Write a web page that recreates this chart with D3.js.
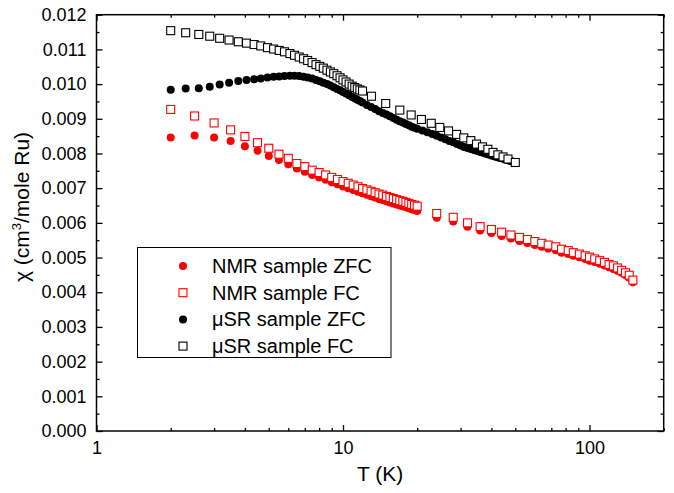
<!DOCTYPE html>
<html><head><meta charset="utf-8">
<script src="https://cdn.jsdelivr.net/npm/d3@7"></script>
<style>
body{margin:0;background:#fff}
svg{display:block}
text{font-family:Arial,"Liberation Sans",sans-serif;fill:#000}
</style>
</head><body>
<svg id="chart" width="674" height="493"></svg>
<script>
// ---------- data (chi in units of cm^3/mole Ru) ----------
const T_nmrZFC = [2.0,2.5,3.0,3.5,4.0,4.5,5.0,5.5,6.0,6.5,7.0,7.5,8.0,8.5,9.0,9.5,10.0,10.5,11.0,11.5,12.0,12.5,13.0,13.5,14.0,14.5,15.0,15.5,16.0,16.5,17.0,17.5,18.0,18.5,19.0,19.5,20.0,
  24,28,32,36,40,44,48,52,56,60,64,68,73,77,82,86,91,96,100,105,110,115,120,125,130,135,140,145,150];
const chi_nmrZFC = [0.00846,0.00852,0.00846,0.00836,0.00821,0.00808,0.00793,0.00781,0.00769,0.00757,0.00747,0.00738,0.00731,0.00724,0.00717,0.00711,0.00705,0.00700,0.00695,0.00690,0.00685,0.00681,0.00677,0.00673,0.00669,0.00666,0.00662,0.00659,0.00656,0.00653,0.00650,0.00648,0.00645,0.00642,0.00639,0.00637,0.00634,
  0.00615,0.00604,0.00589,0.00578,0.00571,0.00562,0.00555,0.00548,0.00542,0.00536,0.00531,0.00526,0.00521,0.00514,0.00510,0.00505,0.00501,0.00496,0.00491,0.00487,0.00482,0.00477,0.00472,0.00467,0.00462,0.00456,0.00450,0.00442,0.00429];

const T_nmrFC = [2.0,2.5,3.0,3.5,4.0,4.5,5.0,5.5,6.0,6.5,7.0,7.5,8.0,8.5,9.0,9.5,10.0,10.5,11.0,11.5,12.0,12.5,13.0,13.5,14.0,14.5,15.0,15.5,16.0,16.5,17.0,17.5,18.0,18.5,19.0,19.5,20.0,
  24,28,32,36,40,44,48,52,56,60,64,68,73,77,82,86,91,96,100,105,110,115,120,125,130,135,140,145,150];
const chi_nmrFC = [0.00927,0.00908,0.00888,0.00868,0.00849,0.00831,0.00815,0.00798,0.00786,0.00771,0.00762,0.00752,0.00745,0.00738,0.00731,0.00725,0.00719,0.00714,0.00709,0.00704,0.00699,0.00695,0.00691,0.00687,0.00683,0.00680,0.00676,0.00673,0.00670,0.00667,0.00664,0.00662,0.00659,0.00656,0.00653,0.00651,0.00648,
  0.00627,0.00616,0.00600,0.00589,0.00581,0.00573,0.00565,0.00558,0.00552,0.00546,0.00541,0.00536,0.00531,0.00524,0.00520,0.00514,0.00510,0.00505,0.00501,0.00496,0.00491,0.00486,0.00480,0.00476,0.00470,0.00463,0.00456,0.00449,0.00435];

const T_musrZFC = [2.00,2.30,2.60,2.88,3.16,3.45,3.76,4.06,4.36,4.64,4.94,5.23,5.51,5.79,6.09,6.36,6.64,6.92,7.19,7.49,7.77,8.05,8.32,8.61,8.89,9.17,9.46,9.73,10.00,10.29,10.59,10.89,11.16,11.43,11.71,12.00,
  12.5,13.0,13.5,14.0,14.5,15.0,15.5,16.0,16.5,17.0,17.5,18.0,18.5,19.0,19.5,20.0,
  21,22,23,24,25,26,27,28,29,30,31,32,33,34,35,36,37,38,39,40,41,42,43,44,45,46,47,48,49,50];
const chi_musrZFC = [0.00984,0.00987,0.00988,0.00992,0.00999,0.01004,0.01009,0.01012,0.01014,0.01016,0.01019,0.01021,0.01022,0.01023,0.01024,0.01024,0.01023,0.01021,0.01019,0.01016,0.01012,0.01008,0.01004,0.01000,0.00996,0.00991,0.00986,0.00982,0.00977,0.00973,0.00968,0.00963,0.00959,0.00955,0.00951,0.00947,
  0.00940,0.00934,0.00928,0.00922,0.00917,0.00912,0.00907,0.00902,0.00897,0.00893,0.00889,0.00885,0.00881,0.00877,0.00874,0.00871,
  0.00866,0.00861,0.00856,0.00851,0.00846,0.00841,0.00836,0.00832,0.00827,0.00823,0.00819,0.00816,0.00813,0.00810,0.00807,0.00804,0.00802,0.00799,0.00797,0.00794,0.00792,0.00790,0.00788,0.00786,0.00784,0.00782,0.00780,0.00778,0.00776,0.00774];

const T_musrFC = [2.00,2.30,2.60,2.88,3.16,3.45,3.76,4.06,4.36,4.64,4.94,5.23,5.51,5.79,6.09,6.36,6.64,6.92,7.19,7.49,7.77,8.05,8.32,8.61,8.89,9.17,9.46,9.73,10.00,10.29,10.59,10.89,11.16,11.43,11.71,12.00,
  13.05,14.9,17.0,18.9,20.8,22.8,24.7,26.8,28.9,30.9,33.0,34.8,36.8,38.7,40.6,42.5,44.6,46.7,50.0];
const chi_musrFC = [0.01154,0.01148,0.01143,0.01138,0.01132,0.01127,0.01122,0.01118,0.01114,0.01110,0.01105,0.01101,0.01097,0.01093,0.01088,0.01083,0.01078,0.01073,0.01068,0.01062,0.01056,0.01051,0.01046,0.01040,0.01035,0.01030,0.01024,0.01018,0.01012,0.01006,0.01000,0.00994,0.00990,0.00986,0.00983,0.00980,
  0.00965,0.00944,0.00925,0.00911,0.00898,0.00887,0.00875,0.00865,0.00855,0.00845,0.00837,0.00827,0.00819,0.00812,0.00803,0.00796,0.00790,0.00784,0.00774];

const xMajor = [1,10,100];
const xMinor = [2,3,4,5,6,7,8,9,20,30,40,50,60,70,80,90,200];
const yMajor = [0,0.001,0.002,0.003,0.004,0.005,0.006,0.007,0.008,0.009,0.010,0.011,0.012];
const yMinor = [0.0005,0.0015,0.0025,0.0035,0.0045,0.0055,0.0065,0.0075,0.0085,0.0095,0.0105,0.0115];

const legendLabels = ["NMR sample ZFC","NMR sample FC","\u03bcSR sample ZFC","\u03bcSR sample FC"];
const seriesColors = ["#ff0000","#ff0000","#000000","#000000"];
const seriesShapes = ["circle","square","circle","square"];
// ---------------------------------------------------------

const svg = d3.select("#chart");
const L = 96.5, R = 663.7, TOP = 14.7, B = 431;
const x = d3.scaleLog().domain([1,200]).range([L,R]);
const y = d3.scaleLinear().domain([0,0.012]).range([B,TOP]);

const series = [
  {T:T_nmrZFC, c:chi_nmrZFC},
  {T:T_nmrFC, c:chi_nmrFC},
  {T:T_musrZFC, c:chi_musrZFC},
  {T:T_musrFC, c:chi_musrFC}
];

const plot = svg.append("g");
series.forEach((s,i)=>{
  const pts = s.T.map((t,k)=>({t, v:s.c[k]}));
  const g = plot.append("g");
  if (seriesShapes[i]==="circle"){
    g.selectAll("circle").data(pts).join("circle")
      .attr("cx",d=>x(d.t)).attr("cy",d=>y(d.v)).attr("r",4)
      .attr("fill",seriesColors[i]);
  } else {
    g.selectAll("rect").data(pts).join("rect")
      .attr("x",d=>x(d.t)-4).attr("y",d=>y(d.v)-4).attr("width",8).attr("height",8)
      .attr("fill","#fff").attr("stroke",seriesColors[i]).attr("stroke-width",1.1);
  }
});

// axes
function styleAxis(g){ g.select(".domain").remove(); g.selectAll("line").attr("stroke","#000").attr("stroke-width",1.3); }
const fontTick = "18px";
svg.append("g").attr("transform",`translate(0,${B})`)
  .call(d3.axisBottom(x).tickValues(xMajor).tickFormat(d3.format("d")).tickSizeInner(-6).tickSizeOuter(0).tickPadding(10))
  .call(styleAxis).call(g=>g.selectAll("text").attr("font-size",fontTick).attr("font-family","Arial, 'Liberation Sans', sans-serif"));
svg.append("g").attr("transform",`translate(0,${B})`)
  .call(d3.axisBottom(x).tickValues(xMinor).tickFormat("").tickSizeInner(-3).tickSizeOuter(0)).call(styleAxis);
svg.append("g").attr("transform",`translate(0,${TOP})`)
  .call(d3.axisTop(x).tickValues(xMajor).tickFormat("").tickSizeInner(-6).tickSizeOuter(0)).call(styleAxis);
svg.append("g").attr("transform",`translate(0,${TOP})`)
  .call(d3.axisTop(x).tickValues(xMinor).tickFormat("").tickSizeInner(-3).tickSizeOuter(0)).call(styleAxis);

svg.append("g").attr("transform",`translate(${L},0)`)
  .call(d3.axisLeft(y).tickValues(yMajor).tickFormat(d3.format(".3f")).tickSizeInner(-6).tickSizeOuter(0).tickPadding(10))
  .call(styleAxis).call(g=>g.selectAll("text").attr("font-size",fontTick).attr("font-family","Arial, 'Liberation Sans', sans-serif"));
svg.append("g").attr("transform",`translate(${L},0)`)
  .call(d3.axisLeft(y).tickValues(yMinor).tickFormat("").tickSizeInner(-3).tickSizeOuter(0)).call(styleAxis);
svg.append("g").attr("transform",`translate(${R},0)`)
  .call(d3.axisRight(y).tickValues(yMajor).tickFormat("").tickSizeInner(-6).tickSizeOuter(0)).call(styleAxis);
svg.append("g").attr("transform",`translate(${R},0)`)
  .call(d3.axisRight(y).tickValues(yMinor).tickFormat("").tickSizeInner(-3).tickSizeOuter(0)).call(styleAxis);

svg.append("rect").attr("x",L).attr("y",TOP).attr("width",R-L).attr("height",B-TOP)
  .attr("fill","none").attr("stroke","#000").attr("stroke-width",1.5);

// axis titles
svg.append("text").attr("x",(L+R)/2).attr("y",481).attr("text-anchor","middle")
  .attr("font-size","21px").text("T (K)");
const yt = svg.append("text").attr("transform",`translate(29,207) rotate(-90)`)
  .attr("text-anchor","middle").attr("font-size","21px");
yt.append("tspan").text("\u03c7 (cm");
yt.append("tspan").attr("font-size","13px").attr("dy","-8").text("3");
yt.append("tspan").attr("dy","8").text("/mole Ru)");

// legend
const lg = svg.append("g");
lg.append("rect").attr("x",137.5).attr("y",247.5).attr("width",253.5).attr("height",110)
  .attr("fill","#fff").attr("stroke","#000").attr("stroke-width",1);
legendLabels.forEach((lab,i)=>{
  const cy = 266 + i*26.7;
  if (seriesShapes[i]==="circle"){
    lg.append("circle").attr("cx",183).attr("cy",cy).attr("r",4).attr("fill",seriesColors[i]);
  } else {
    lg.append("rect").attr("x",179).attr("y",cy-4).attr("width",8).attr("height",8)
      .attr("fill","#fff").attr("stroke",seriesColors[i]).attr("stroke-width",1.1);
  }
  lg.append("text").attr("x",212).attr("y",cy+7).attr("font-size","20px").text(lab);
});
</script>
</body></html>
